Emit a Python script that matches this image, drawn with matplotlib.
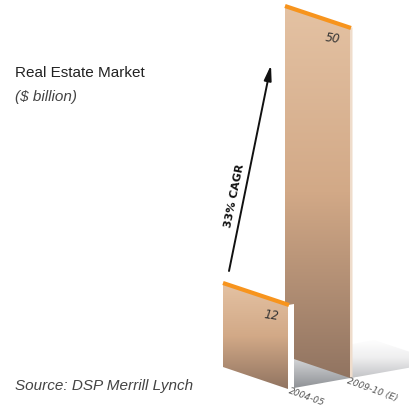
import numpy as np
import matplotlib
matplotlib.use("Agg")
import matplotlib.pyplot as plt
from matplotlib.patches import Polygon
from matplotlib.colors import LinearSegmentedColormap

# ------------------------------------------------------------
# Data
# ------------------------------------------------------------

years = ["2004-05", "2009-10 (E)"]
values = [12, 50]
cagr_label = "33% CAGR"

title = "Real Estate Market"
unit = "($ billion)"
source = "Source: DSP Merrill Lynch"

# ------------------------------------------------------------
# Pseudo-3D layout (canvas is in pixels, y pointing down)
# ------------------------------------------------------------

PX_PER_UNIT = 7.0                # bar height per $ billion
FRONT = np.array([65.0, 22.0])   # width vector of a bar face
DEPTH = np.array([62.0, -11.0])  # step between bar rows
ORIGIN = np.array([223.0, 368.0])
SIDES = [np.array([6.0, -1.0]), np.array([2.5, -0.5])]  # side face thickness

face_cmap = LinearSegmentedColormap.from_list("face", ["#e4c2a3", "#d2a987", "#917461"])

fig = plt.figure(figsize=(4.1, 4.1), dpi=100)
ax = fig.add_axes([0, 0, 1, 1])
ax.set_xlim(0, 410)
ax.set_ylim(410, 0)
ax.axis("off")


def gradient_patch(poly, cmap, z=1):
    patch = Polygon(poly, closed=True, facecolor="none", edgecolor="none", zorder=z)
    ax.add_patch(patch)
    xs, ys = poly[:, 0], poly[:, 1]
    grad = np.linspace(0, 1, 256).reshape(-1, 1)
    im = ax.imshow(grad, cmap=cmap, aspect="auto", origin="upper",
                   extent=[xs.min(), xs.max(), ys.max(), ys.min()],
                   zorder=z, interpolation="bilinear")
    im.set_clip_path(patch)
    return im


bases = [ORIGIN + DEPTH * i for i in range(len(values))]

# floor shadows (drawn first, bars cover them)
shadow_maps = [
    LinearSegmentedColormap.from_list("s1", ["#dcdddf", "#b5b7ba", "#8f9296"]),
    LinearSegmentedColormap.from_list("s2", ["#ffffff", "#eeeeef", "#c4c5c8"]),
]
for i, base in enumerate(bases):
    b0 = base + SIDES[i]
    b1 = base + FRONT + SIDES[i] + np.array([1.5, 0.0]) * i
    back = DEPTH if i == 0 else DEPTH * 1.4
    shadow = np.array([b0, b1, b1 + back, b0 + back])
    gradient_patch(shadow, shadow_maps[i], z=1)

# bars, back to front
for i in reversed(range(len(values))):
    base = bases[i]
    side = SIDES[i]
    h = np.array([0.0, -values[i] * PX_PER_UNIT])
    bl, br = base, base + FRONT
    tl, tr = bl + h, br + h
    face = np.array([bl, br, tr, tl])
    z = 3 + (len(values) - i) * 2
    gradient_patch(face, face_cmap, z=z)

    # side face
    ax.add_patch(Polygon(np.array([br, br + side, tr + side, tr]), closed=True,
                         facecolor="#ffffff" if i == 0 else "#efdccb",
                         edgecolor="none", zorder=z))

    # orange top edge
    ax.plot([tl[0], tr[0] + 1], [tl[1], tr[1]], color="#f7941d", lw=3.0,
            solid_capstyle="butt", zorder=z + 1)

    # value label
    ax.text(tr[0] - 17, tr[1] + 10, str(values[i]), fontsize=8.5, style="italic",
            color="#333333", ha="center", va="center", rotation=-8, zorder=z + 1)

    # category label under the bar
    lab = br + side + np.array([-5.0, 2.0])
    ax.text(lab[0], lab[1], years[i], fontsize=6.5, style="italic", color="#555555",
            ha="left", va="center", rotation=-20, rotation_mode="anchor", zorder=z + 1)

# growth arrow
ax.annotate("", xy=(271, 66), xytext=(229, 272),
            arrowprops=dict(arrowstyle="-|>,head_length=0.9,head_width=0.22",
                            color="#111111", lw=1.4, shrinkA=0, shrinkB=0))
ax.text(235, 196, cagr_label, fontsize=8, fontweight="bold", color="#111111",
        ha="center", va="center", rotation=78.5)

# titles and source
ax.text(15, 73, title, fontsize=11, color="#222222", family="Liberation Sans",
        ha="left", va="center")
ax.text(15, 97, unit, fontsize=11, style="italic", color="#444444",
        family="Liberation Sans", ha="left", va="center")
ax.text(15, 386, source, fontsize=11, style="italic", color="#444444",
        family="Liberation Sans", ha="left", va="center")

fig.savefig("out.png", dpi=100)
